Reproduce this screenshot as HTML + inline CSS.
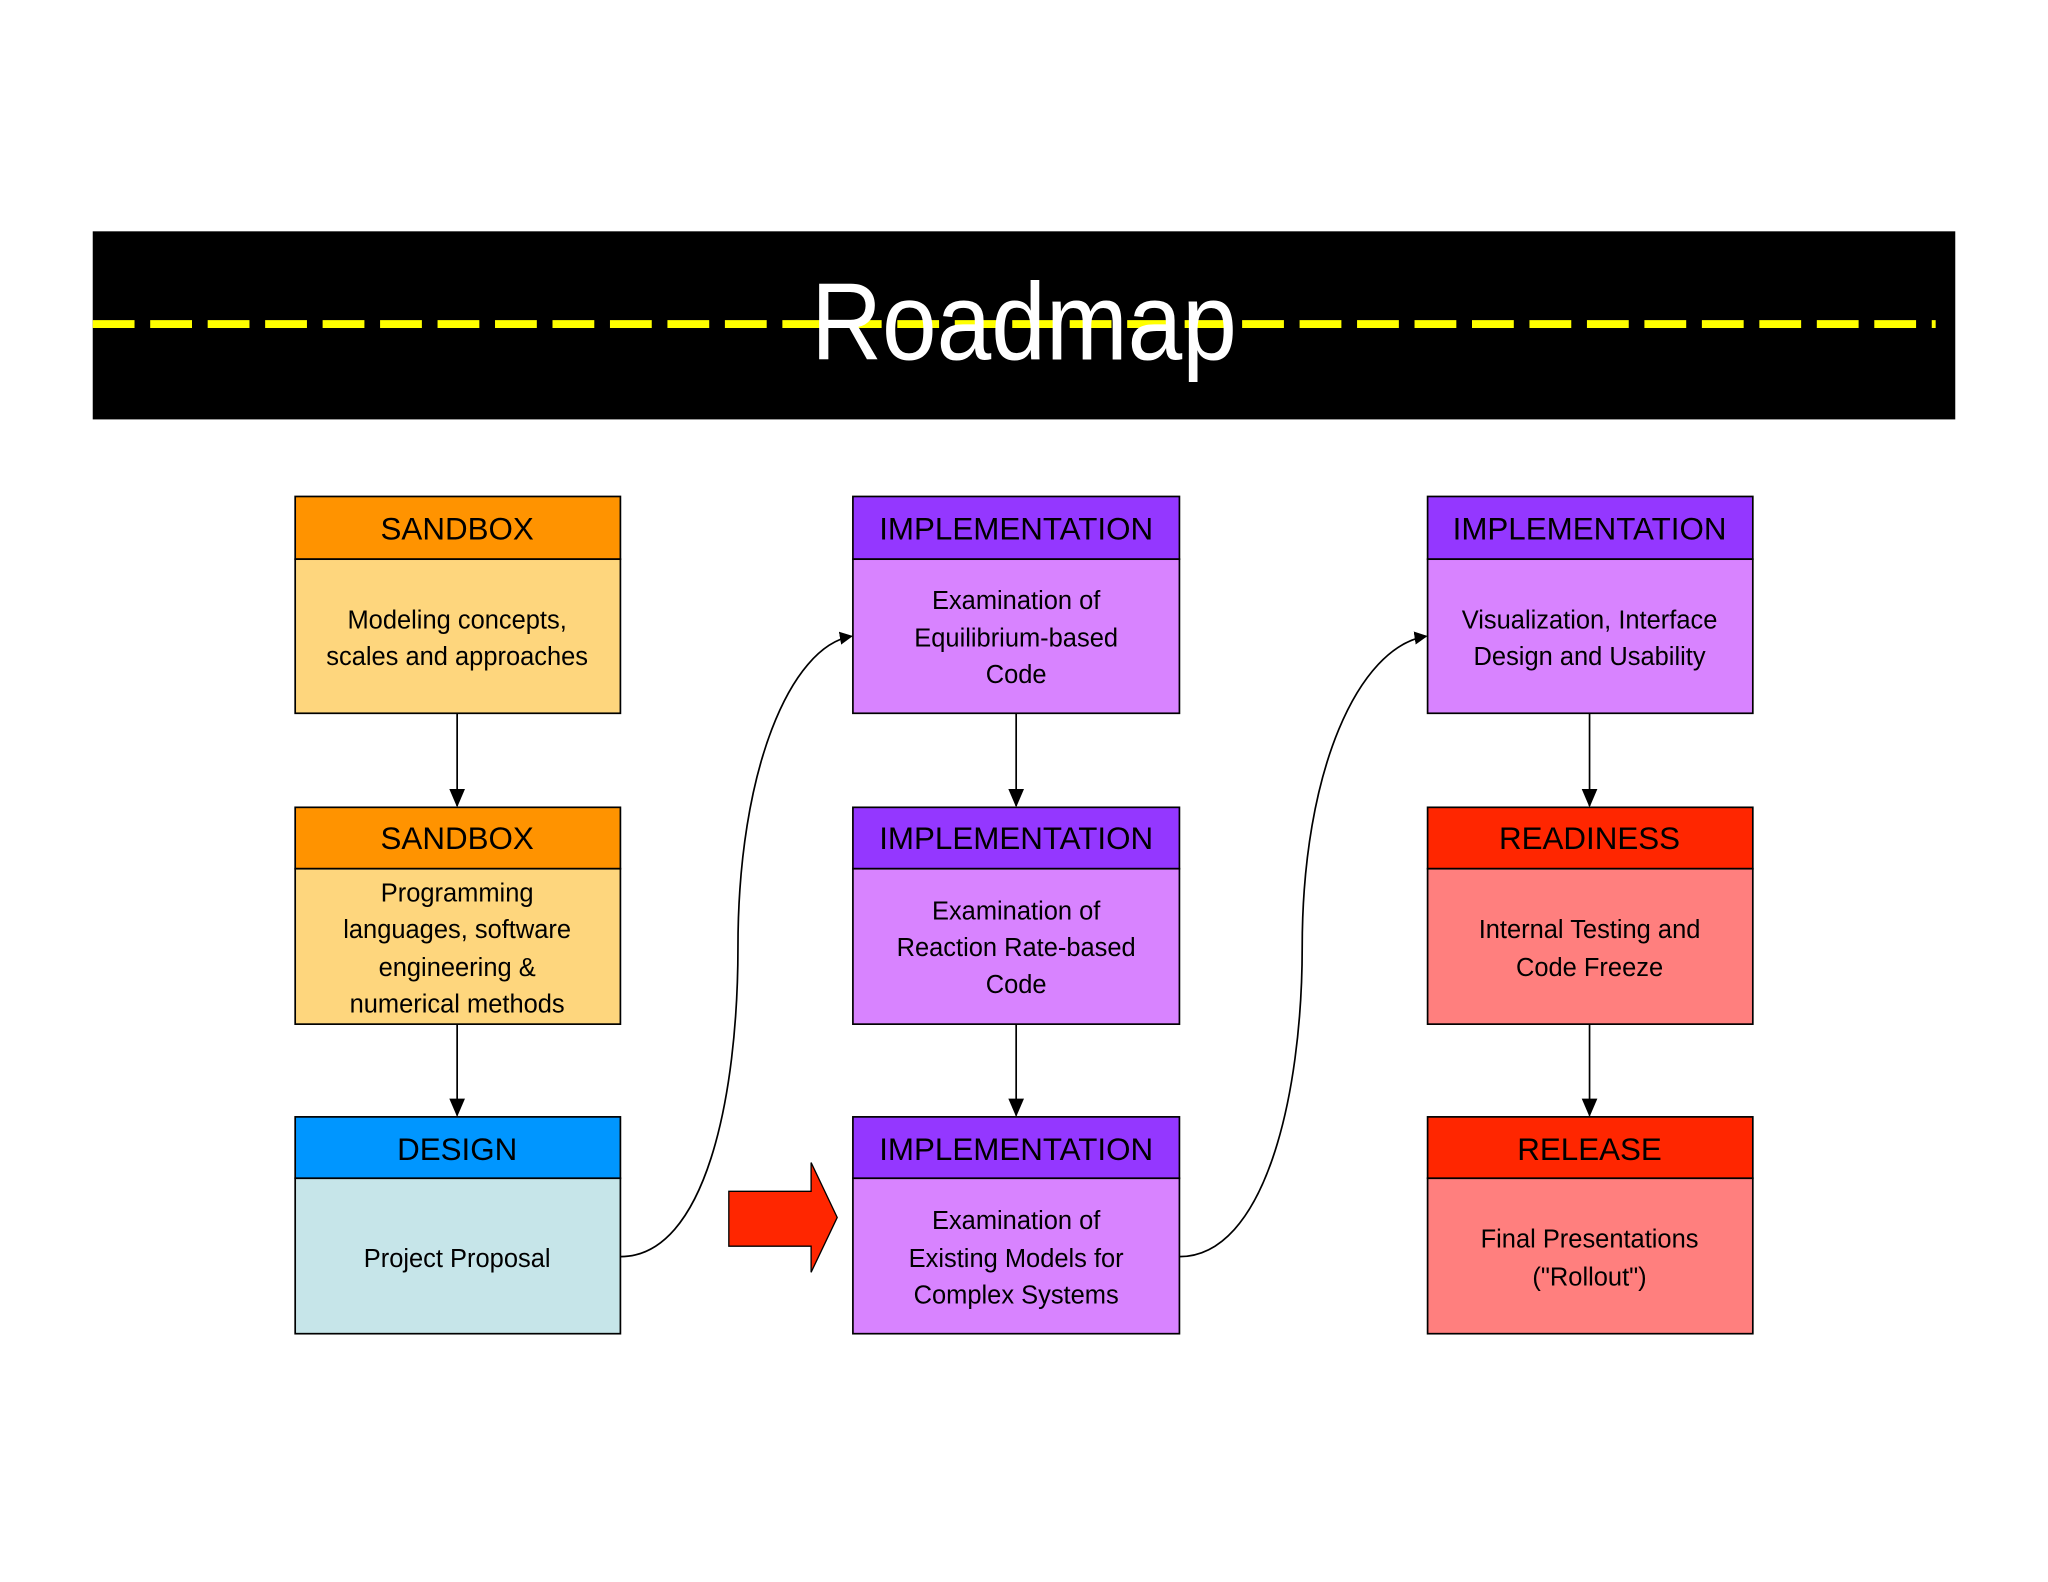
<!DOCTYPE html>
<html><head><meta charset="utf-8"><style>html,body{margin:0;padding:0;background:#fff}svg{display:block}</style></head>
<body>
<svg width="2048" height="1582" viewBox="0 0 1568 1211" xmlns="http://www.w3.org/2000/svg" font-family="Liberation Sans, sans-serif">
<defs><marker id="ah" markerWidth="10" markerHeight="10" refX="9" refY="5" orient="auto" markerUnits="userSpaceOnUse"><path d="M0,0 L10,5 L0,10 z" fill="#000"/></marker>
<marker id="av" markerWidth="14" markerHeight="14" refX="13" refY="7" orient="auto" markerUnits="userSpaceOnUse"><path d="M0,1 L14,7 L0,13 z" fill="#000"/></marker></defs>
<rect x="71" y="177" width="1426" height="144" fill="#000"/>
<line x1="71" y1="248" x2="1482" y2="248" stroke="#FFFF00" stroke-width="6" stroke-dasharray="32 12"/>
<text x="784" y="275" font-size="84" fill="#fff" text-anchor="middle" textLength="326" lengthAdjust="spacingAndGlyphs">Roadmap</text>

<g stroke="#000" stroke-width="1.3">
<rect x="226" y="380" width="249" height="48" fill="#FF9300"/><rect x="226" y="428" width="249" height="118" fill="#FED67D"/>
<rect x="226" y="618" width="249" height="47" fill="#FF9300"/><rect x="226" y="665" width="249" height="119" fill="#FED67D"/>
<rect x="226" y="855" width="249" height="47" fill="#0096FF"/><rect x="226" y="902" width="249" height="119" fill="#C6E5E9"/>
<rect x="653" y="380" width="250" height="48" fill="#9437FF"/><rect x="653" y="428" width="250" height="118" fill="#D883FF"/>
<rect x="653" y="618" width="250" height="47" fill="#9437FF"/><rect x="653" y="665" width="250" height="119" fill="#D883FF"/>
<rect x="653" y="855" width="250" height="47" fill="#9437FF"/><rect x="653" y="902" width="250" height="119" fill="#D883FF"/>
<rect x="1093" y="380" width="249" height="48" fill="#9437FF"/><rect x="1093" y="428" width="249" height="118" fill="#D883FF"/>
<rect x="1093" y="618" width="249" height="47" fill="#FF2600"/><rect x="1093" y="665" width="249" height="119" fill="#FF7F7E"/>
<rect x="1093" y="855" width="249" height="47" fill="#FF2600"/><rect x="1093" y="902" width="249" height="119" fill="#FF7F7E"/>
</g>
<g stroke="#000" stroke-width="1.3" fill="none">
<line x1="350" y1="546" x2="350" y2="617" marker-end="url(#av)"/>
<line x1="350" y1="784" x2="350" y2="854" marker-end="url(#av)"/>
<line x1="778" y1="546" x2="778" y2="617" marker-end="url(#av)"/>
<line x1="778" y1="784" x2="778" y2="854" marker-end="url(#av)"/>
<line x1="1217" y1="546" x2="1217" y2="617" marker-end="url(#av)"/>
<line x1="1217" y1="784" x2="1217" y2="854" marker-end="url(#av)"/>
<path d="M475,962 C540,962 565,840 565,725 C565,590 605,495 652,487" marker-end="url(#ah)"/>
<path d="M903,962 C968,962 997,840 997,725 C997,590 1040,495 1092,487" marker-end="url(#ah)"/>
</g>
<path d="M558,912 L621,912 L621,890 L641,932 L621,974 L621,954 L558,954 Z" fill="#FF2600" stroke="#000" stroke-width="1"/>

<g font-size="24" text-anchor="middle" fill="#000">
<text x="350" y="413">SANDBOX</text><text x="350" y="650">SANDBOX</text><text x="350" y="888">DESIGN</text>
<text x="778" y="413">IMPLEMENTATION</text><text x="778" y="650">IMPLEMENTATION</text><text x="778" y="888">IMPLEMENTATION</text>
<text x="1217" y="413">IMPLEMENTATION</text><text x="1217" y="650">READINESS</text><text x="1217" y="888">RELEASE</text>
</g>
<g font-size="19.5" text-anchor="middle" fill="#000">
<text x="350" y="481">Modeling concepts,</text><text x="350" y="509">scales and approaches</text>
<text x="350" y="690">Programming</text><text x="350" y="718">languages, software</text><text x="350" y="747">engineering &amp;</text><text x="350" y="775">numerical methods</text>
<text x="350" y="970">Project Proposal</text>
<text x="778" y="466">Examination of</text><text x="778" y="495">Equilibrium-based</text><text x="778" y="523">Code</text>
<text x="778" y="704">Examination of</text><text x="778" y="732">Reaction Rate-based</text><text x="778" y="760">Code</text>
<text x="778" y="941">Examination of</text><text x="778" y="970">Existing Models for</text><text x="778" y="998">Complex Systems</text>
<text x="1217" y="481">Visualization, Interface</text><text x="1217" y="509">Design and Usability</text>
<text x="1217" y="718">Internal Testing and</text><text x="1217" y="747">Code Freeze</text>
<text x="1217" y="955">Final Presentations</text><text x="1217" y="984">("Rollout")</text>
</g>
</svg>
</body></html>
